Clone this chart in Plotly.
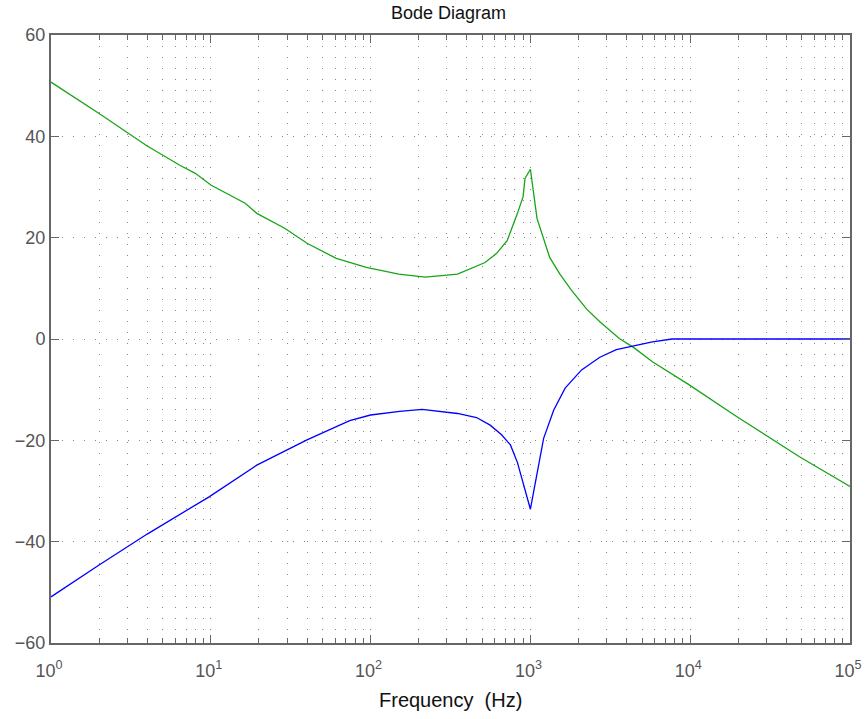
import plotly.graph_objects as go

# Open-loop magnitude (green), dB
freq_open = [1, 2, 4, 4.8, 6.4, 8, 10, 16.4, 19.4, 29, 40, 61, 94, 150, 220, 350,
             520, 615, 715, 830, 900, 925, 1000, 1100, 1320, 1530, 1800, 2250,
             2720, 3600, 4440, 5800, 9700, 19500, 48000, 100000]
mag_open = [50.7, 44.5, 38.1, 36.6, 34.3, 32.7, 30.4, 26.8, 24.8, 21.85, 18.9,
            15.9, 14.15, 12.8, 12.2, 12.8, 15.1, 16.9, 19.4, 24.8, 28.1, 31.7,
            33.5, 23.8, 16.1, 12.8, 9.7, 5.9, 3.4, 0.1, -1.7, -4.5, -8.9, -15.3,
            -23.2, -29.1]

# Sensitivity magnitude (blue), dB
freq_sens = [1, 2, 4, 5.7, 9.7, 19.4, 29, 40, 74, 100, 152, 210, 350, 460, 560,
             660, 750, 830, 1000, 1090, 1210, 1400, 1650, 2090, 2720, 3450, 4400,
             5800, 7700, 10000, 100000]
mag_sens = [-50.9, -44.6, -38.5, -35.6, -31.2, -24.9, -22.2, -19.9, -16.1, -15,
            -14.3, -13.9, -14.7, -15.5, -17, -18.9, -20.9, -24.4, -33.6, -27.5,
            -19.6, -14, -9.7, -6.1, -3.6, -2.1, -1.4, -0.55, 0, 0, 0]

x_tickvals = [1, 10, 100, 1000, 10000, 100000]
x_ticktext = ["10<sup>0</sup>", "10<sup>1</sup>", "10<sup>2</sup>", "10<sup>3</sup>",
              "10<sup>4</sup>", "10<sup>5</sup>"]
x_minor = [m * d for d in [1, 10, 100, 1000, 10000] for m in range(2, 10)]
y_tickvals = [-60, -40, -20, 0, 20, 40, 60]

fig = go.Figure()
fig.add_trace(go.Scatter(x=freq_open, y=mag_open, mode="lines",
                         line=dict(color="#16a516", width=1.3), showlegend=False))
fig.add_trace(go.Scatter(x=freq_sens, y=mag_sens, mode="lines",
                         line=dict(color="#0000ff", width=1.3), showlegend=False))

font_family = "Liberation Sans, Arial, sans-serif"
dots = "1px,10px"
fig.update_layout(
    width=865, height=719,
    margin=dict(l=51, r=15, t=35, b=76),
    paper_bgcolor="white", plot_bgcolor="white",
    font=dict(family=font_family, color="#555555"),
    title=dict(text="Bode Diagram", x=0.5185, xanchor="center", y=0.9826, yanchor="middle",
               font=dict(size=18, color="#111111", family=font_family)),
    xaxis=dict(
        type="log", range=[0, 5], automargin=False,
        tickvals=x_tickvals, ticktext=x_ticktext,
        ticks="inside", ticklen=8, tickcolor="#666666",
        showline=True, linecolor="#666666", linewidth=2, mirror="allticks",
        showgrid=True, gridcolor="#888888", griddash=dots, gridwidth=1,
        tickfont=dict(size=18, color="#555555"),
        ticklabelshift=-2, ticklabelstandoff=10,
        minor=dict(tickvals=x_minor, ticks="inside", ticklen=5, tickcolor="#666666",
                   showgrid=True, gridcolor="#888888", griddash=dots, gridwidth=1),
        zeroline=False,
    ),
    yaxis=dict(
        range=[-60, 60], tickvals=y_tickvals, automargin=False,
        ticks="inside", ticklen=8, tickcolor="#666666",
        showline=True, linecolor="#666666", linewidth=2, mirror="allticks",
        showgrid=True, gridcolor="#888888", griddash=dots, gridwidth=1,
        tickfont=dict(size=18, color="#555555"),
        zeroline=False,
    ),
    annotations=[dict(text="Frequency  (Hz)", xref="paper", yref="paper",
                      x=0.5, y=-0.094, xanchor="center", yanchor="middle",
                      showarrow=False, font=dict(size=20, color="#111111"))],
)

# remove the default page margin so the figure fills the window exactly
fig.write_html("out.html", config={"displayModeBar": False},
               post_script="document.body.style.margin='0';")
